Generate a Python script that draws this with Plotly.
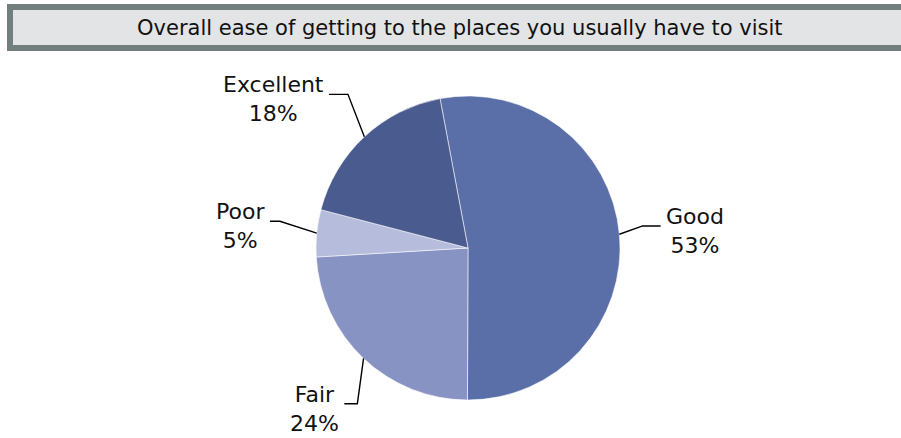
import math
import plotly.graph_objects as go

title = "Overall ease of getting to the places you usually have to visit"
labels = ["Good", "Fair", "Poor", "Excellent"]
values = [53, 24, 5, 18]
colors = ["#5a6ea8", "#8793c3", "#b6bcdb", "#4a5b8f"]

W, H = 901, 438
cx, cy, r = 468, 248, 152
start_deg = -10.6

# leader line layout per slice: elbow radius (px), angle shift (deg), tail length (px)
leader = {
    "Good": (176, -2, 18),
    "Fair": (191, -8, 13),
    "Poor": (190, 2.5, 10),
    "Excellent": (195, 5, 19),
}


def px(x, y):
    return x / W, 1 - y / H


fig = go.Figure(go.Pie(
    labels=labels,
    values=values,
    sort=False,
    direction="clockwise",
    rotation=start_deg,
    marker=dict(colors=colors, line=dict(color="rgba(255,255,255,0.55)", width=1)),
    textinfo="none",
    hoverinfo="label+percent",
    domain=dict(x=[(cx - r) / W, (cx + r) / W], y=[1 - (cy + r) / H, 1 - (cy - r) / H]),
))

shapes = [
    dict(type="rect", xref="paper", yref="paper", x0=px(7, 4)[0], y0=px(7, 4)[1],
         x1=1, y1=px(901, 51)[1], fillcolor="#737f7f", line=dict(width=0), layer="below"),
    dict(type="rect", xref="paper", yref="paper", x0=px(13, 10)[0], y0=px(13, 10)[1],
         x1=1, y1=px(901, 45)[1], fillcolor="#e3e4e6", line=dict(width=0), layer="below"),
]
annotations = [
    dict(text=title, xref="paper", yref="paper", x=px(460, 0)[0], y=px(0, 28)[1],
         showarrow=False, xanchor="center", yanchor="middle",
         font=dict(family="DejaVu Sans", size=21, color="#111111")),
]

total = sum(values)
cum = 0
for lab, val in zip(labels, values):
    mid = math.radians(start_deg + 360 * (cum + val / 2) / total)
    cum += val
    r2, da, tail = leader[lab]
    ex, ey = cx + r * math.sin(mid), cy - r * math.cos(mid)
    a2 = mid + math.radians(da)
    bx, by = cx + r2 * math.sin(a2), cy - r2 * math.cos(a2)
    side = 1 if math.sin(mid) > 0 else -1
    tx = bx + side * tail
    pts = [px(ex, ey), px(bx, by), px(tx, by)]
    path = "M {} {} L {} {} L {} {}".format(*[c for p in pts for c in p])
    shapes.append(dict(type="path", xref="paper", yref="paper", path=path,
                       line=dict(color="#000000", width=1.4)))
    annotations.append(dict(
        text="{}<br>{}%".format(lab, round(100 * val / total)),
        xref="paper", yref="paper",
        x=px(tx + side * 3, 0)[0], y=px(0, by + 5)[1],
        xanchor="left" if side > 0 else "right", yanchor="middle",
        align="center", showarrow=False,
        font=dict(family="DejaVu Sans", size=22, color="#111111"),
    ))

fig.update_layout(
    width=W, height=H,
    margin=dict(l=0, r=0, t=0, b=0),
    paper_bgcolor="white",
    showlegend=False,
    shapes=shapes,
    annotations=annotations,
)

fig.write_html("out.html", config={"displayModeBar": False},
               post_script="document.body.style.margin='0';")
